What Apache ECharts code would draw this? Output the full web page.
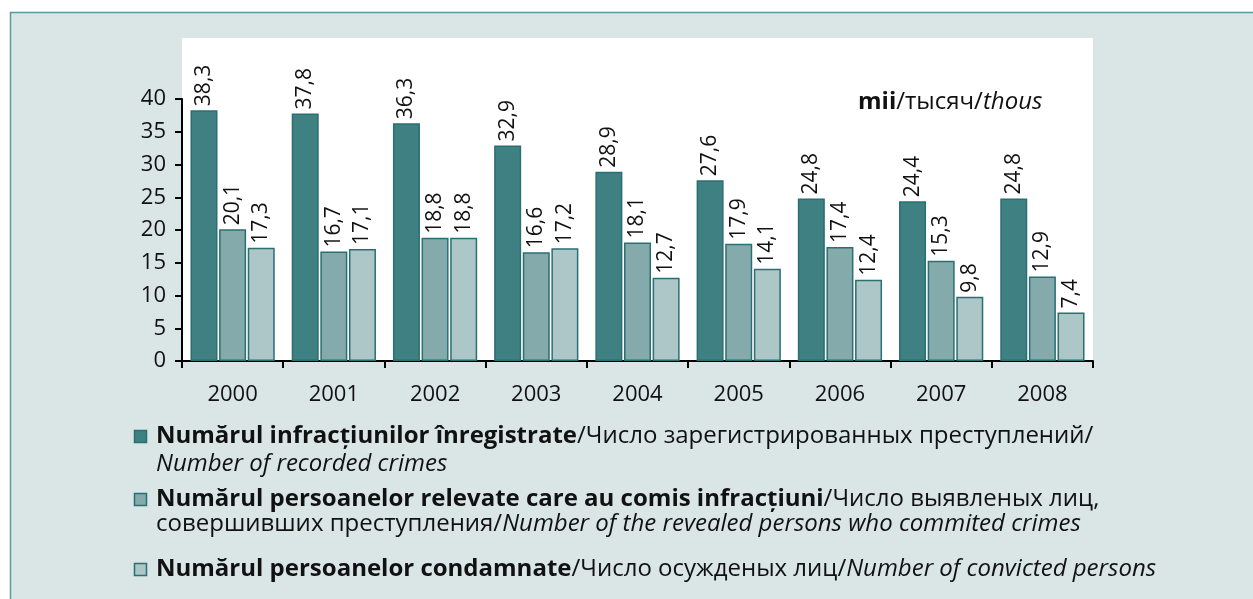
<!DOCTYPE html>
<html>
<head>
<meta charset="utf-8">
<script src="https://cdn.jsdelivr.net/npm/echarts@6/dist/echarts.min.js"></script>
<style>
  html, body { margin: 0; padding: 0; background: #fff; }
  #main { width: 1253px; height: 599px; }
</style>
</head>
<body>
<div id="main"></div>
<script>
// categories and values (thousands)
const years = ['2000', '2001', '2002', '2003', '2004', '2005', '2006', '2007', '2008'];
const recordedCrimes = [38.3, 37.8, 36.3, 32.9, 28.9, 27.6, 24.8, 24.4, 24.8];
const revealedPersons = [20.1, 16.7, 18.8, 16.6, 18.1, 17.9, 17.4, 15.3, 12.9];
const convictedPersons = [17.3, 17.1, 18.8, 17.2, 12.7, 14.1, 12.4, 9.8, 7.4];
const yTicks = [0, 5, 10, 15, 20, 25, 30, 35, 40];

const colors = ['#3f8082', '#85aaac', '#adc6c8'];
const edge = '#2a6f71';
const font = '"Open Sans", "Noto Sans", sans-serif';

// legend lines: bold / normal / italic pieces
const legendLines = [
  { y: 437, marker: 0, parts: ['Numărul infracțiunilor înregistrate', '/Число зарегистрированных преступлений/', ''] },
  { y: 465, marker: -1, parts: ['', '', 'Number of recorded crimes'] },
  { y: 500, marker: 1, parts: ['Numărul persoanelor relevate care au comis infracțiuni', '/Число выявленых лиц,', ''] },
  { y: 525, marker: -1, parts: ['', 'совершивших преступления/', 'Number of the revealed persons who commited crimes'] },
  { y: 570, marker: 2, parts: ['Numărul persoanelor condamnate', '/Число осужденых лиц/', 'Number of convicted persons'] }
];

const chart = echarts.init(document.getElementById('main'));

const label = {
  show: true,
  position: 'top',
  rotate: 90,
  align: 'left',
  verticalAlign: 'middle',
  distance: 4,
  fontFamily: font,
  fontSize: 21,
  color: '#111',
  formatter: p => String(p.value).replace('.', ',')
};

function bar(name, data, i) {
  return {
    name: name,
    type: 'bar',
    data: data,
    barWidth: 27,
    barGap: '6%',
    itemStyle: { color: colors[i], borderColor: edge, borderWidth: 1.5 },
    label: label
  };
}

const richStyles = size => ({
  b: { fontFamily: font, fontSize: size, fontWeight: 'bold', fill: '#111' },
  n: { fontFamily: font, fontSize: size, fill: '#111' },
  i: { fontFamily: font, fontSize: size, fontStyle: 'italic', fill: '#111' }
});

const graphics = [
  // outer frame
  { type: 'rect', z: -10, shape: { x: 10.5, y: 12.5, width: 1260, height: 600 },
    style: { fill: '#dae6e6', stroke: '#5b9a9b', lineWidth: 1.5 } },
  // white plot background
  { type: 'rect', z: -9, shape: { x: 182, y: 38, width: 911, height: 323 },
    style: { fill: '#fff' } },
  // unit label
  { type: 'text', left: 858, top: 90, style: {
      text: '{b|mii}{n|/тысяч/}{i|thous}', rich: richStyles(24) } }
];

legendLines.forEach(l => {
  if (l.marker >= 0) {
    graphics.push({ type: 'rect', shape: { x: 134.5, y: l.y - 6.5, width: 12, height: 12 },
      style: { fill: colors[l.marker], stroke: edge, lineWidth: 1.5 } });
  }
  let txt = '';
  if (l.parts[0]) txt += '{b|' + l.parts[0] + '}';
  if (l.parts[1]) txt += '{n|' + l.parts[1] + '}';
  if (l.parts[2]) txt += '{i|' + l.parts[2] + '}';
  graphics.push({ type: 'text', left: 156, top: l.y - 13, style: { text: txt, rich: richStyles(24) } });
});

chart.setOption({
  animation: false,
  backgroundColor: '#fff',
  graphic: graphics,
  grid: { left: 182, top: 99, width: 911, height: 262 },
  xAxis: {
    type: 'category',
    data: years,
    axisLine: { lineStyle: { color: '#000', width: 2 } },
    axisTick: { show: true, length: 7, lineStyle: { color: '#000', width: 2 } },
    axisLabel: { fontFamily: font, fontSize: 22, color: '#111', margin: 23 }
  },
  yAxis: {
    type: 'value',
    min: 0,
    max: 40,
    interval: 5,
    axisLine: { show: true, lineStyle: { color: '#000', width: 2 } },
    axisTick: { show: true, length: 7, lineStyle: { color: '#000', width: 2 } },
    splitLine: { show: false },
    axisLabel: { fontFamily: font, fontSize: 22, color: '#111', margin: 16,
      formatter: v => yTicks.includes(v) ? String(v) : '' }
  },
  series: [
    bar('Numărul infracțiunilor înregistrate', recordedCrimes, 0),
    bar('Numărul persoanelor relevate care au comis infracțiuni', revealedPersons, 1),
    bar('Numărul persoanelor condamnate', convictedPersons, 2)
  ]
});
</script>
</body>
</html>
